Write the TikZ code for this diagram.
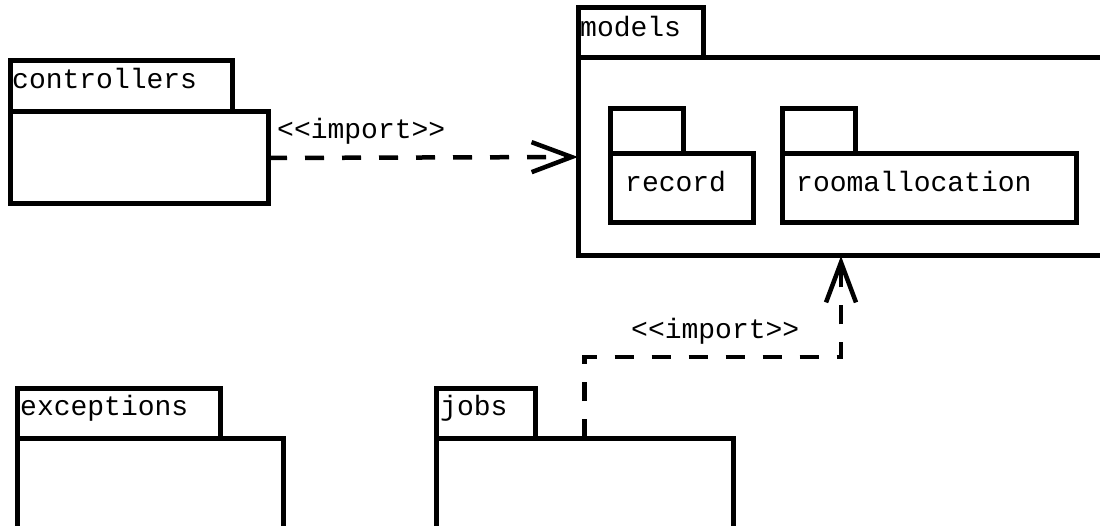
\documentclass[tikz,border=0pt]{standalone}
\usepackage{fontspec}
\usetikzlibrary{arrows.meta,positioning}
\newfontfamily\pkgfont{Liberation Mono}

\tikzset{
  pkg/.style={draw,line width=5pt,rectangle,inner sep=0pt,outer sep=0pt,anchor=north west},
  pkgtab/.style={draw,line width=5pt,rectangle,inner sep=0pt,outer sep=0pt,anchor=south west},
  pkgname/.style={anchor=base west,inner sep=0pt,font=\pkgfont\fontsize{28}{30}\selectfont},
  dep/.style={line width=4.5pt,dash pattern=on 19pt off 18pt,
    -{Straight Barb[length=40pt,width=30pt,line width=4.5pt]}}
}

\begin{document}
\begin{tikzpicture}[x=1pt,y=-1pt]
\path[use as bounding box,fill=white] (0,0) rectangle (1100,526);
\clip (0,0) rectangle (1100,526);

% packages
\node[pkg,minimum width=258pt,minimum height=92pt] (ctrl) at (10,112) {};
\node[pkgtab,minimum width=222pt,minimum height=51pt] (ctrltab) at (ctrl.north west) {};
\node[pkgname] (ctrlname) at (12,89) {controllers};

\node[pkg,minimum width=526pt,minimum height=198pt] (models) at (578,58) {};
\node[pkgtab,minimum width=125pt,minimum height=50pt] (modelstab) at (models.north west) {};
\node[pkgname] (modelsname) at (580,37) {models};

\node[pkg,minimum width=143pt,minimum height=69pt] (record) at (610,154) {};
\node[pkgtab,minimum width=73pt,minimum height=45pt] (recordtab) at (record.north west) {};
\node[pkgname] (recordname) at (625,192) {record};

\node[pkg,minimum width=294pt,minimum height=69pt] (room) at (782,154) {};
\node[pkgtab,minimum width=73pt,minimum height=45pt] (roomtab) at (room.north west) {};
\node[pkgname] (roomname) at (796,192) {roomallocation};

\node[pkg,minimum width=266pt,minimum height=120pt] (exc) at (17,438) {};
\node[pkgtab,minimum width=203pt,minimum height=50pt] (exctab) at (exc.north west) {};
\node[pkgname] (excname) at (20,415) {exceptions};

\node[pkg,minimum width=297pt,minimum height=120pt] (jobs) at (436,438) {};
\node[pkgtab,minimum width=99pt,minimum height=50pt] (jobstab) at (jobs.north west) {};
\node[pkgname] (jobsname) at (440,415) {jobs};

% dependencies
\draw[dep] (ctrl.east) -- (models.west);
\node[pkgname] (imp1) at (277,139) {<<import>>};

\draw[dep] (jobs.north) -- ++(0,-81) -| (models.south);
\node[pkgname] (imp2) at (631,339) {<<import>>};
\end{tikzpicture}
\end{document}
